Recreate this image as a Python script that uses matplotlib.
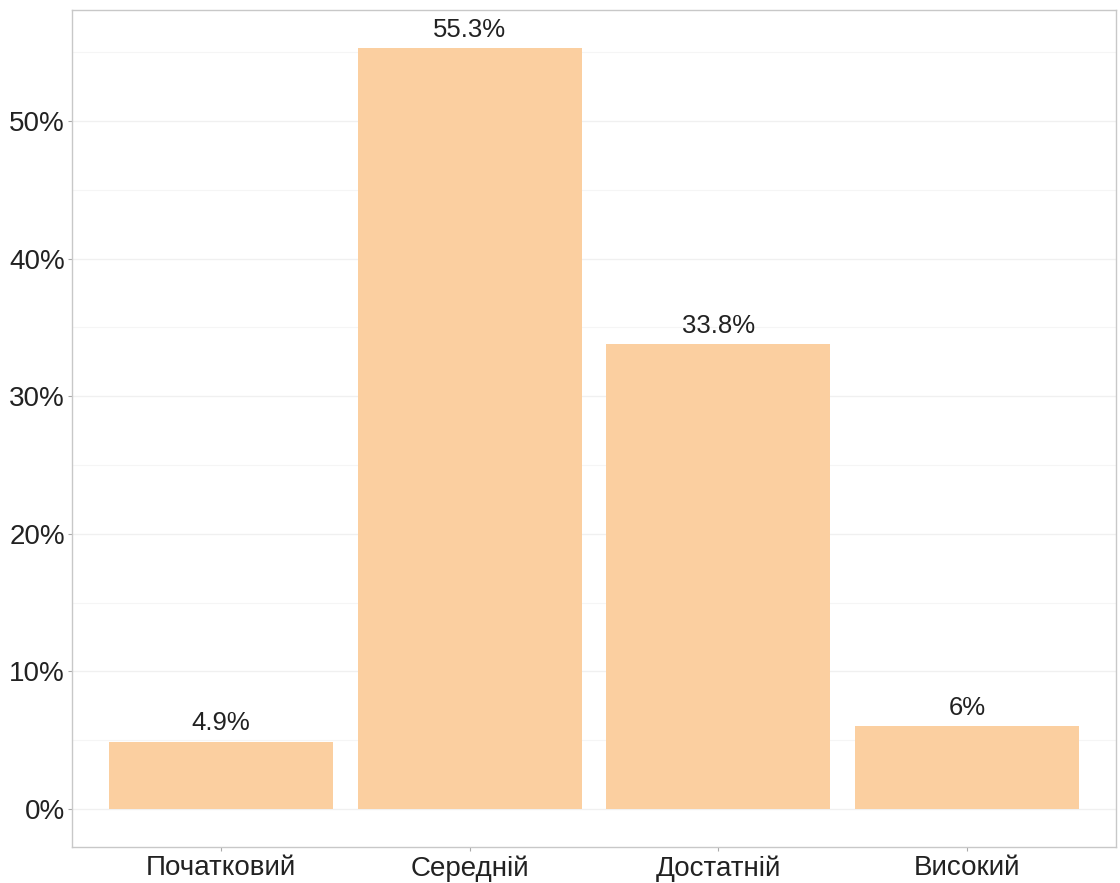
import numpy as np
import matplotlib.pyplot as plt
from matplotlib.ticker import MultipleLocator, FuncFormatter

Levels = ["Початковий", "Середній", "Достатній", "Високий"]
Shares = [4.9, 55.3, 33.8, 6.0]  # %
Labels = ["4.9%", "55.3%", "33.8%", "6%"]

plt.rcParams['font.family'] = ['Liberation Sans', 'DejaVu Sans']

fig = plt.figure(figsize=(11.2, 8.83), dpi=100)
ax = fig.add_axes([72/1120, 1-847/883, (1116-72)/1120, (847-10)/883])

x = np.arange(1, len(Levels)+1)
ax.bar(x, Shares, width=0.9, color="#FBCFA0", zorder=2)

for xi, v, lab in zip(x, Shares, Labels):
    ax.text(xi, v + 0.45, lab, ha='center', va='bottom', fontsize=18.5, color="#222222")

ax.set_xlim(0.4, 4.6)
ax.set_ylim(-2.765, 58.065)
ax.set_xticks(x)
ax.set_xticklabels(Levels, fontsize=20, color="#222222")
ax.yaxis.set_major_locator(MultipleLocator(10))
ax.yaxis.set_minor_locator(MultipleLocator(5))
ax.yaxis.set_major_formatter(FuncFormatter(lambda v, p: f"{v:.0f}%"))
ax.tick_params(axis='y', labelsize=20, labelcolor="#222222", pad=2)
ax.tick_params(axis='x', pad=3)
ax.tick_params(which='both', color="#AAAAAA", length=3, width=0.8)
ax.tick_params(which='minor', length=0)

ax.grid(visible=True, which='major', axis='y', color="#F0F0F0", linewidth=1.0, zorder=0)
ax.grid(visible=True, which='minor', axis='y', color="#F5F5F5", linewidth=0.8, zorder=0)
ax.set_axisbelow(True)
for s in ax.spines.values():
    s.set_color("#C8C8C8")
    s.set_linewidth(1.0)

plt.savefig("out.png", dpi=100)
